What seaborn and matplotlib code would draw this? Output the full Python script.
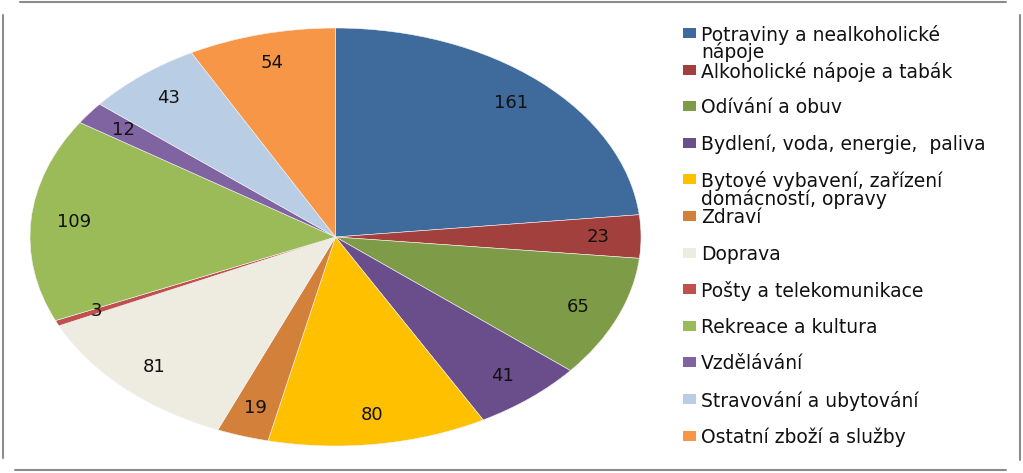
import matplotlib
matplotlib.use("Agg")
import matplotlib.pyplot as plt
import seaborn as sns
from matplotlib.patches import Rectangle
from matplotlib.lines import Line2D

# Data
categories = [
    "Potraviny a nealkoholické\nnápoje",
    "Alkoholické nápoje a tabák",
    "Odívání a obuv",
    "Bydlení, voda, energie,  paliva",
    "Bytové vybavení, zařízení\ndomácností, opravy",
    "Zdraví",
    "Doprava",
    "Pošty a telekomunikace",
    "Rekreace a kultura",
    "Vzdělávání",
    "Stravování a ubytování",
    "Ostatní zboží a služby",
]
values = [161, 23, 65, 41, 80, 19, 81, 3, 109, 12, 43, 54]
colors = ["#3E6A9C", "#A2403D", "#7E9C48", "#6A4E8C", "#FFC000", "#D2803A",
          "#EEECE1", "#C0504D", "#9BBB59", "#8064A2", "#B9CDE5", "#F79646"]

sns.set_theme(style="white")
plt.rcParams["font.family"] = ["DejaVu Sans"]

W, H = 1023, 473
fig = plt.figure(figsize=(W / 100, H / 100), dpi=100)

# pie area in pixels (left, top, right, bottom)
px0, py0, px1, py1 = 30, 28, 641, 446
ax = fig.add_axes([px0 / W, 1 - py1 / H, (px1 - px0) / W, (py1 - py0) / H])

total = sum(values)
wedges, texts, autotexts = ax.pie(
    values, colors=colors, startangle=90, counterclock=False,
    autopct=lambda p: f"{round(p * total / 100)}", pctdistance=0.86,
    wedgeprops=dict(linewidth=0.4, edgecolor="#f4f4f4"),
    textprops=dict(fontsize=13, color="#111111"),
)
ax.set_aspect("auto")
ax.set_xlim(-1, 1)
ax.set_ylim(-1, 1)

# legend drawn by hand to keep uniform row spacing
lx, ly0, step = 683, 33, 36.6
for i, (lab, col) in enumerate(zip(categories, colors)):
    y = ly0 + i * step
    fig.patches.append(Rectangle((lx / W, 1 - (y + 5) / H), 13 / W, 10 / H,
                                 transform=fig.transFigure, facecolor=col,
                                 edgecolor="none"))
    fig.text((lx + 18) / W, 1 - (y - 8) / H, lab, fontsize=13.5, va="top",
             ha="left", color="#111111", linespacing=0.84)

# frame
frame = [((20, 2), (1006, 2)), ((15, 470), (1006, 470)),
         ((3, 15), (3, 458)), ((1020, 15), (1020, 460))]
for (xa, ya), (xb, yb) in frame:
    fig.add_artist(Line2D([xa / W, xb / W], [1 - ya / H, 1 - yb / H],
                          transform=fig.transFigure, color="#8c8c8c", lw=1.5))

fig.savefig("out.png", dpi=100)
